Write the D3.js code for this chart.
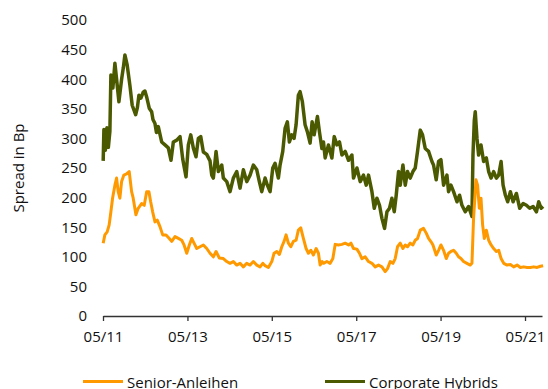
<!DOCTYPE html>
<html>
<head>
<meta charset="utf-8">
<script src="https://cdn.jsdelivr.net/npm/d3@7"></script>
<style>
  html, body { margin: 0; padding: 0; background: #fff; }
  svg { display: block; }
  text { font-family: "Open Sans", "Liberation Sans", sans-serif; }
</style>
</head>
<body>
<svg id="chart" width="548" height="389"></svg>
<script>
// ---------- data (dates as decimal years) ----------
const seriesNames = ["Senior-Anleihen", "Corporate Hybrids"];
const xTickLabels = ["05/11", "05/13", "05/15", "05/17", "05/19", "05/21"];
const yTicks = [0, 50, 100, 150, 200, 250, 300, 350, 400, 450, 500];

const hybridDates = [
  2011.333, 2011.350, 2011.385, 2011.421, 2011.456, 2011.492, 2011.516, 2011.563, 2011.611, 2011.651,
  2011.706, 2011.770, 2011.812, 2011.848, 2011.902, 2011.966, 2012.021, 2012.102, 2012.144, 2012.180,
  2012.227, 2012.282, 2012.322, 2012.363, 2012.424, 2012.481, 2012.512, 2012.560, 2012.595, 2012.638,
  2012.718, 2012.797, 2012.875, 2012.939, 2012.994, 2013.075, 2013.153, 2013.217, 2013.295, 2013.350,
  2013.407, 2013.468, 2013.532, 2013.587, 2013.644, 2013.706, 2013.786, 2013.864, 2013.905, 2013.943,
  2014.007, 2014.062, 2014.142, 2014.180, 2014.261, 2014.339, 2014.417, 2014.498, 2014.576, 2014.655,
  2014.735, 2014.814, 2014.892, 2014.973, 2015.034, 2015.091, 2015.170, 2015.224, 2015.288, 2015.352,
  2015.407, 2015.485, 2015.525, 2015.589, 2015.644, 2015.698, 2015.746, 2015.803, 2015.857, 2015.905,
  2015.959, 2015.999, 2016.054, 2016.118, 2016.173, 2016.237, 2016.284, 2016.332, 2016.410, 2016.458,
  2016.515, 2016.553, 2016.593, 2016.671, 2016.752, 2016.807, 2016.871, 2016.932, 2016.989, 2017.067,
  2017.146, 2017.226, 2017.264, 2017.345, 2017.423, 2017.501, 2017.566, 2017.620, 2017.701, 2017.756,
  2017.819, 2017.881, 2017.938, 2018.000, 2018.057, 2018.118, 2018.175, 2018.230, 2018.277, 2018.332,
  2018.372, 2018.436, 2018.491, 2018.545, 2018.609, 2018.673, 2018.728, 2018.782, 2018.847, 2018.901,
  2018.965, 2019.044, 2019.124, 2019.162, 2019.226, 2019.281, 2019.338, 2019.400, 2019.480, 2019.518,
  2019.575, 2019.637, 2019.718, 2019.779, 2019.836, 2019.914, 2019.993, 2020.073, 2020.097, 2020.128,
  2020.151, 2020.192, 2020.230, 2020.287, 2020.349, 2020.413, 2020.468, 2020.525, 2020.586, 2020.650,
  2020.705, 2020.762, 2020.809, 2020.864, 2020.918, 2020.982, 2021.046, 2021.124, 2021.203, 2021.284,
  2021.362, 2021.440, 2021.521, 2021.599, 2021.654, 2021.711, 2021.758
];
const hybridValues = [
  262, 315, 280, 318, 285, 312, 407, 385, 427, 400,
  362, 400, 420, 441, 424, 390, 356, 340, 352, 373,
  368, 378, 380, 370, 351, 345, 332, 325, 310, 320,
  294, 289, 284, 263, 294, 297, 303, 265, 235, 289,
  306, 284, 269, 300, 303, 277, 273, 262, 238, 233,
  278, 244, 255, 233, 227, 210, 233, 244, 216, 247,
  227, 238, 255, 247, 227, 210, 233, 221, 210, 250,
  258, 233, 255, 278, 317, 328, 294, 306, 300, 323,
  373, 379, 362, 323, 311, 292, 328, 306, 337, 311,
  283, 294, 267, 289, 267, 303, 289, 294, 272, 278,
  263, 272, 233, 250, 227, 238, 221, 238, 210, 182,
  199, 187, 165, 148, 176, 182, 199, 176, 204, 244,
  221, 255, 221, 244, 233, 244, 250, 278, 314, 306,
  283, 278, 261, 255, 230, 261, 264, 221, 238, 210,
  221, 210, 193, 204, 187, 176, 185, 168, 272, 330,
  345, 300, 272, 289, 261, 267, 244, 233, 244, 233,
  238, 261, 221, 204, 193, 210, 193, 207, 182, 190,
  187, 182, 185, 176, 193, 182, 185
];

const seniorDates = [
  2011.333, 2011.373, 2011.428, 2011.475, 2011.516, 2011.556, 2011.611, 2011.651, 2011.689, 2011.729,
  2011.770, 2011.824, 2011.888, 2011.950, 2012.007, 2012.045, 2012.109, 2012.163, 2012.244, 2012.306,
  2012.363, 2012.417, 2012.458, 2012.505, 2012.560, 2012.614, 2012.678, 2012.742, 2012.821, 2012.899,
  2012.956, 2013.034, 2013.113, 2013.193, 2013.248, 2013.312, 2013.373, 2013.430, 2013.485, 2013.549,
  2013.627, 2013.706, 2013.786, 2013.864, 2013.943, 2014.007, 2014.085, 2014.180, 2014.261, 2014.339,
  2014.417, 2014.498, 2014.576, 2014.655, 2014.735, 2014.814, 2014.892, 2014.973, 2015.051, 2015.115,
  2015.170, 2015.248, 2015.329, 2015.383, 2015.447, 2015.509, 2015.566, 2015.620, 2015.668, 2015.722,
  2015.779, 2015.841, 2015.905, 2015.959, 2016.016, 2016.078, 2016.142, 2016.197, 2016.254, 2016.315,
  2016.379, 2016.434, 2016.474, 2016.522, 2016.553, 2016.633, 2016.711, 2016.775, 2016.830, 2016.908,
  2016.989, 2017.067, 2017.146, 2017.203, 2017.264, 2017.345, 2017.406, 2017.463, 2017.541, 2017.620,
  2017.701, 2017.779, 2017.857, 2017.938, 2018.016, 2018.071, 2018.135, 2018.199, 2018.253, 2018.308,
  2018.372, 2018.436, 2018.491, 2018.545, 2018.609, 2018.673, 2018.728, 2018.782, 2018.847, 2018.925,
  2018.989, 2019.044, 2019.124, 2019.148, 2019.226, 2019.281, 2019.338, 2019.400, 2019.464, 2019.518,
  2019.575, 2019.637, 2019.701, 2019.755, 2019.812, 2019.874, 2019.954, 2020.033, 2020.073, 2020.111,
  2020.168, 2020.206, 2020.247, 2020.287, 2020.325, 2020.366, 2020.413, 2020.468, 2020.525, 2020.586,
  2020.650, 2020.705, 2020.762, 2020.824, 2020.904, 2020.982, 2021.060, 2021.141, 2021.219, 2021.298,
  2021.378, 2021.457, 2021.535, 2021.616, 2021.694, 2021.758
];
const seniorValues = [
  123, 137, 142, 154, 176, 199, 221, 233, 210, 199,
  227, 238, 240, 244, 210, 199, 171, 182, 190, 187,
  210, 210, 193, 176, 159, 162, 151, 137, 137, 131,
  126, 134, 131, 128, 120, 106, 120, 131, 123, 114,
  117, 120, 114, 106, 100, 109, 98, 97, 92, 89,
  92, 86, 89, 83, 89, 86, 92, 86, 83, 89,
  85, 82, 92, 106, 109, 104, 117, 126, 137, 123,
  117, 126, 128, 145, 149, 131, 114, 106, 111, 103,
  114, 106, 86, 92, 89, 92, 89, 97, 121, 120,
  121, 123, 120, 123, 114, 113, 106, 97, 100, 92,
  89, 83, 86, 83, 75, 80, 92, 89, 97, 117,
  123, 114, 120, 117, 123, 120, 128, 131, 145, 148,
  140, 131, 123, 120, 103, 111, 120, 111, 97, 106,
  109, 111, 106, 100, 97, 92, 89, 86, 89, 165,
  230, 221, 182, 199, 154, 131, 145, 128, 120, 114,
  109, 111, 97, 89, 86, 87, 83, 86, 82, 83,
  82, 82, 83, 82, 84, 85
];

const seriesColors = ["#FF9900", "#4B5A00"];

// ---------- helpers ----------
function decToDate(t) {
  const y = Math.floor(t);
  const start = Date.UTC(y, 0, 1), end = Date.UTC(y + 1, 0, 1);
  return new Date(start + (t - y) * (end - start));
}

// ---------- layout ----------
const svg = d3.select("#chart");
const x0 = 103, x1 = 542, yTop = 20, yBottom = 316;

const x = d3.scaleUtc()
  .domain([new Date(Date.UTC(2011, 4, 1)), new Date(Date.UTC(2021, 8, 25))])
  .range([x0, x1]);
const y = d3.scaleLinear().domain([0, 500]).range([yBottom, yTop]);

const xTickDates = xTickLabels.map(s => {
  const [m, yy] = s.split("/").map(Number);
  return new Date(Date.UTC(2000 + yy, m - 1, 1));
});

// x axis
const xAxis = d3.axisBottom(x)
  .tickValues(xTickDates)
  .tickFormat((d, i) => xTickLabels[i])
  .tickSizeInner(5)
  .tickSizeOuter(0)
  .tickPadding(10);
const gx = svg.append("g").attr("transform", `translate(0,${yBottom})`).call(xAxis);
gx.select(".domain").attr("stroke", "#333").attr("stroke-width", 1.3);
gx.selectAll(".tick line").attr("stroke", "#333").attr("stroke-width", 1.3);
gx.selectAll(".tick text").attr("font-size", 15).attr("fill", "#111")
  .attr("font-family", "'Open Sans', sans-serif");

// y axis (labels only)
const yAxis = d3.axisLeft(y).tickValues(yTicks).tickSize(0).tickPadding(0);
const gy = svg.append("g").attr("transform", `translate(87,0)`).call(yAxis);
gy.select(".domain").remove();
gy.selectAll(".tick text").attr("font-size", 15).attr("fill", "#111")
  .attr("font-family", "'Open Sans', sans-serif");

// y title
svg.append("text")
  .attr("transform", `translate(24,${(yTop + yBottom) / 2}) rotate(-90)`)
  .attr("text-anchor", "middle")
  .attr("font-size", 15)
  .attr("fill", "#111")
  .text("Spread in Bp");

// lines
const line = d3.line().x(d => x(d.date)).y(d => y(d.value));
const hybrid = hybridDates.map((t, i) => ({ date: decToDate(t), value: hybridValues[i] }));
const senior = seniorDates.map((t, i) => ({ date: decToDate(t), value: seniorValues[i] }));

svg.append("path").datum(hybrid)
  .attr("d", line).attr("fill", "none")
  .attr("stroke", seriesColors[1]).attr("stroke-width", 3.5)
  .attr("stroke-linejoin", "round");
svg.append("path").datum(senior)
  .attr("d", line).attr("fill", "none")
  .attr("stroke", seriesColors[0]).attr("stroke-width", 3)
  .attr("stroke-linejoin", "round");

// legend
const legendItems = [
  { name: seriesNames[0], color: seriesColors[0], x: 83 },
  { name: seriesNames[1], color: seriesColors[1], x: 325 }
];
const lg = svg.append("g");
legendItems.forEach(it => {
  lg.append("line")
    .attr("x1", it.x).attr("x2", it.x + 40)
    .attr("y1", 381.5).attr("y2", 381.5)
    .attr("stroke", it.color).attr("stroke-width", 3);
  lg.append("text")
    .attr("x", it.x + 44).attr("y", 388)
    .attr("font-size", 15).attr("fill", "#111")
    .text(it.name);
});
</script>
</body>
</html>
